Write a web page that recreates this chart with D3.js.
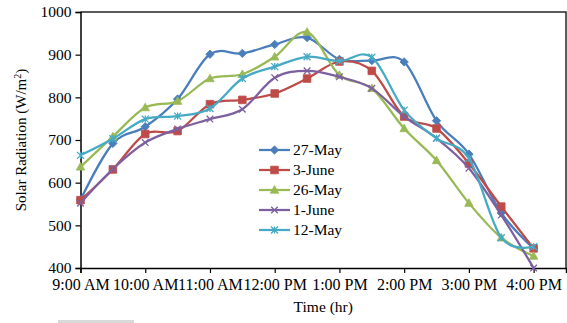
<!DOCTYPE html>
<html>
<head>
<meta charset="utf-8">
<script src="https://cdn.jsdelivr.net/npm/d3@7"></script>
<style>
  html, body { margin: 0; padding: 0; background: #fff; }
  svg { display: block; }
  text { font-family: "Liberation Serif", "Times New Roman", serif; fill: #000; }
</style>
</head>
<body>
<svg id="chart" width="567" height="323"></svg>
<script>
// ---- data ----
const hours = [9, 9.5, 10, 10.5, 11, 11.5, 12, 12.5, 13, 13.5, 14, 14.5, 15, 15.5, 16];
const tickHours = [9, 10, 11, 12, 13, 14, 15, 16];
const tickLabels = ["9:00 AM", "10:00 AM", "11:00 AM", "12:00 PM", "1:00 PM", "2:00 PM", "3:00 PM", "4:00 PM"];
const yTicks = [400, 500, 600, 700, 800, 900, 1000];
const seriesNames = ["27-May", "3-June", "26-May", "1-June", "12-May"];
const may27 = [560, 692, 731, 796, 901, 903, 924, 940, 889, 886, 883, 745, 667, 529, 446];
const june3 = [559, 631, 714, 721, 784, 794, 809, 844, 884, 862, 755, 727, 645, 544, 446];
const may26 = [637, 708, 776, 791, 844, 854, 895, 953, 852, 821, 727, 652, 552, 471, 428];
const june1 = [552, 632, 694, 726, 749, 772, 846, 862, 848, 821, 755, 704, 634, 524, 400];
const may12 = [664, 703, 749, 756, 774, 844, 872, 895, 885, 894, 770, 704, 657, 471, 450];
const seriesValues = [may27, june3, may26, june1, may12];
const seriesColors = ["#4A7EBB", "#BE4B48", "#98B954", "#7D60A0", "#46AAC5"];
const seriesMarkers = ["diamond", "square", "triangle", "x", "asterisk"];

// ---- layout ----
const svg = d3.select("#chart");
const L = 80.5, R = 566, T = 12, B = 268;
const x = d3.scaleLinear().domain([9, 16.5]).range([L, R]);
const y = d3.scaleLinear().domain([400, 1000]).range([B, T]);

// frame (top & right)
svg.append("path")
  .attr("d", `M${L},${T}H${R}V${B}`)
  .attr("fill", "none").attr("stroke", "#262626").attr("stroke-width", 1.5);

// y axis
const yAxis = svg.append("g").attr("transform", `translate(${L},0)`)
  .call(d3.axisLeft(y).tickValues(yTicks).tickSize(5).tickPadding(4).tickFormat(d3.format("d")));
yAxis.select(".domain").attr("stroke", "#000").attr("stroke-width", 1.5);
yAxis.selectAll(".tick line").attr("stroke", "#000").attr("stroke-width", 1.2);
yAxis.selectAll("text").style("font-size", "15.5px").style("font-family", "Liberation Serif, serif").attr("fill", "#000");

// x axis
const xAxis = svg.append("g").attr("transform", `translate(0,${B})`)
  .call(d3.axisBottom(x).tickValues(tickHours).tickSize(5).tickPadding(6)
    .tickFormat((d, i) => tickLabels[i]));
xAxis.select(".domain").attr("stroke", "#000").attr("stroke-width", 1.5);
xAxis.selectAll(".tick line").attr("stroke", "#000").attr("stroke-width", 1.2);
xAxis.selectAll("text").style("font-size", "16px").style("font-family", "Liberation Serif, serif").attr("fill", "#000");

// axis titles
svg.append("text").attr("x", (L + R) / 2).attr("y", 312).attr("text-anchor", "middle")
  .style("font-size", "15.5px").text("Time (hr)");
svg.append("text").attr("transform", `translate(26,${(T + B) / 2}) rotate(-90)`)
  .attr("text-anchor", "middle").style("font-size", "15px")
  .html('Solar Radiation (W/m<tspan dy="-5" font-size="10px">2</tspan><tspan dy="5">)</tspan>');

// marker path builder
function markerPath(type, s) {
  switch (type) {
    case "diamond": return `M0,${-s}L${s},0L0,${s}L${-s},0Z`;
    case "square": return `M${-s},${-s}H${s}V${s}H${-s}Z`;
    case "triangle": return `M0,${-s * 1.1}L${s * 1.05},${s * 0.8}L${-s * 1.05},${s * 0.8}Z`;
    case "x": return `M${-s},${-s}L${s},${s}M${-s},${s}L${s},${-s}`;
    case "asterisk": return `M${-s},${-s}L${s},${s}M${-s},${s}L${s},${-s}M0,${-s}V${s}`;
  }
}
const filled = t => t === "diamond" || t === "square" || t === "triangle";
const markerSize = { diamond: 4.2, square: 3.8, triangle: 4, x: 3.3, asterisk: 3.5 };

const line = d3.line().x((d, i) => x(hours[i])).y(d => y(d)).curve(d3.curveCardinal.tension(0));

seriesValues.forEach((vals, si) => {
  const g = svg.append("g");
  g.append("path").datum(vals).attr("d", line)
    .attr("fill", "none").attr("stroke", seriesColors[si]).attr("stroke-width", 2.25)
    .attr("stroke-linejoin", "round");
  const t = seriesMarkers[si];
  g.selectAll("path.m").data(vals).enter().append("path").attr("class", "m")
    .attr("transform", (d, i) => `translate(${x(hours[i])},${y(d)})`)
    .attr("d", markerPath(t, markerSize[t]))
    .attr("fill", filled(t) ? seriesColors[si] : "none")
    .attr("stroke", seriesColors[si]).attr("stroke-width", filled(t) ? 0.8 : 1.3);
});

// legend
const lg = svg.append("g");
seriesNames.forEach((name, si) => {
  const ly = 150 + si * 20;
  lg.append("line").attr("x1", 259).attr("x2", 290).attr("y1", ly).attr("y2", ly)
    .attr("stroke", seriesColors[si]).attr("stroke-width", 2.25);
  const t = seriesMarkers[si];
  lg.append("path").attr("transform", `translate(274.5,${ly})`)
    .attr("d", markerPath(t, markerSize[t]))
    .attr("fill", filled(t) ? seriesColors[si] : "none")
    .attr("stroke", seriesColors[si]).attr("stroke-width", filled(t) ? 0.8 : 1.3);
  lg.append("text").attr("x", 293).attr("y", ly + 5).style("font-size", "15.5px").text(name);
});

// small grey bar under chart
svg.append("rect").attr("x", 58).attr("y", 320).attr("width", 76).attr("height", 3).attr("fill", "#d9d9d9");
</script>
</body>
</html>
